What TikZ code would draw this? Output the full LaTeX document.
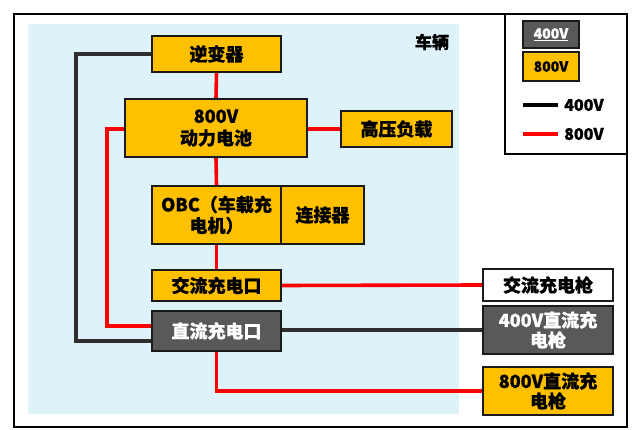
\documentclass[tikz,border=0pt]{standalone}
\usepackage{fontspec}
\setmainfont{Noto Sans CJK SC}[BoldFeatures={FakeBold=0.8}]
\usetikzlibrary{backgrounds}
\definecolor{yel}{HTML}{FFC000}
\definecolor{gry}{HTML}{595959}
\definecolor{lblue}{HTML}{DEF2FA}
\definecolor{dline}{HTML}{2E2E2E}
\definecolor{bord}{HTML}{1A1A1A}
\pgfdeclarelayer{back}
\pgfsetlayers{back,background,main}
\tikzset{
  box/.style={draw=bord,line width=2pt,rectangle,inner sep=0pt,align=center,
    font=\fontsize{18}{21}\selectfont\bfseries},
  ybox/.style={box,fill=yel,text=black},
  gbox/.style={box,fill=gry,text=white},
  wbox/.style={box,fill=white,text=black},
  hv/.style={line width=3.6pt,draw=red},
  lv/.style={line width=3.6pt,draw=dline}
}
\begin{document}
\begin{tikzpicture}[x=1pt,y=-1pt]
\useasboundingbox (0,0) rectangle (633,430);
\begin{pgfonlayer}{back}
\draw[line width=2pt,fill=white] (14,14) rectangle (627,427);
\fill[lblue] (28,24) rectangle (459,414);
\draw[line width=2pt,fill=white] (505,14) rectangle (627,154);
\end{pgfonlayer}
\node[font=\fontsize{17}{19}\selectfont\bfseries] (veh) at (432,42) {车辆};
% vehicle nodes
\node[ybox,minimum width=129pt,minimum height=36pt] (inv) at (216.5,54) {逆变器};
\node[ybox,minimum width=182pt,minimum height=58pt] (bat) at (216,128) {800V\\[1pt]动力电池};
\node[ybox,minimum width=111pt,minimum height=36pt] (load) at (396.5,129) {高压负载};
\node[ybox,minimum width=129pt,minimum height=58pt] (obc) at (216.5,215) {OBC（车载充\\[0pt]电机）};
\node[ybox,minimum width=83pt,minimum height=58pt] (con) at (322.5,215) {连接器};
\node[ybox,minimum width=129pt,minimum height=31pt] (ac) at (216.5,285.5) {交流充电口};
\node[gbox,minimum width=129pt,minimum height=40pt] (dc) at (216.5,331) {直流充电口};
% guns
\node[wbox,minimum width=130pt,minimum height=32pt] (acg) at (548,285) {交流充电枪};
\node[gbox,minimum width=130pt,minimum height=48pt] (dc4) at (548,330) {400V直流充\\[-1pt]电枪};
\node[ybox,minimum width=130pt,minimum height=48pt] (dc8) at (548,391) {800V直流充\\[-1pt]电枪};
% legend
\node[gbox,minimum width=56pt,minimum height=27pt,font=\fontsize{14}{16}\selectfont\bfseries] (lg4) at (551,34.5) {\underline{400V}};
\node[ybox,minimum width=56pt,minimum height=29pt,font=\fontsize{14}{16}\selectfont\bfseries] (lg8) at (551,66.5) {800V};
\coordinate (l1a) at (523,105);
\coordinate (l1b) at (558,105);
\coordinate (l2a) at (523,134);
\coordinate (l2b) at (558,134);
\node[anchor=west,font=\fontsize{16}{18}\selectfont\bfseries,inner sep=0pt] (lt4) at (564,105) {400V};
\node[anchor=west,font=\fontsize{16}{18}\selectfont\bfseries,inner sep=0pt] (lt8) at (564,134) {800V};
\draw[line width=3.6pt,draw=black] (l1a) -- (l1b);
\draw[line width=3.6pt,draw=red] (l2a) -- (l2b);
% connectors
\coordinate (bl) at (76,341);
\coordinate (rl) at (107,326);
\begin{pgfonlayer}{background}
\draw[hv] (inv.south) -- (bat.north);
\draw[hv] (bat.east |- load.west) -- (load.west);
\draw[hv] (bat.south) -- (obc.north);
\draw[hv] (obc.south) -- (ac.north);
\draw[hv] (ac.east) -- (acg.west);
\draw[lv] (dc.east |- dc4.west) -- (dc4.west);
\draw[hv] (dc.south) |- (dc8.west);
\draw[lv] (inv.west) -| (bl) -- (bl -| dc.west);
\draw[hv] (bat.west |- load.west) -| (rl) -- (rl -| dc.west);
\end{pgfonlayer}
\end{tikzpicture}
\end{document}
